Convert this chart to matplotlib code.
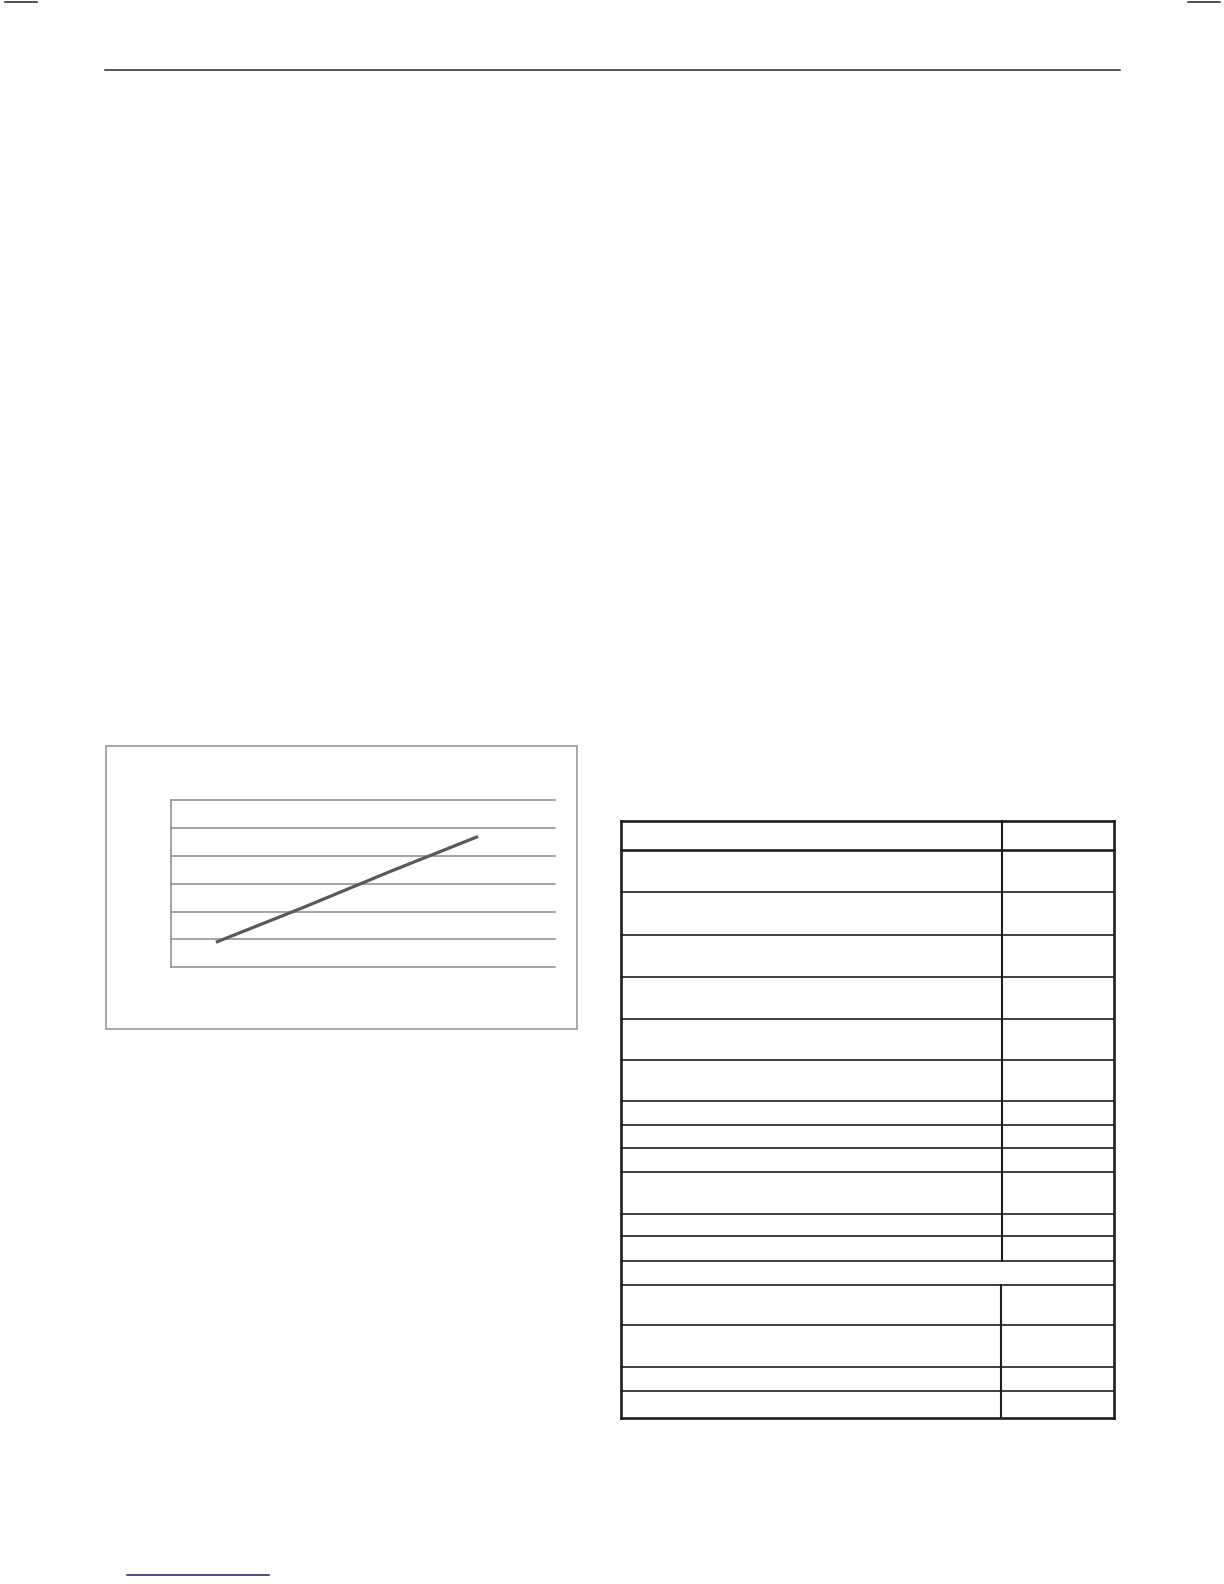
import numpy as np
import matplotlib
matplotlib.use("Agg")
import matplotlib.pyplot as plt
from matplotlib.patches import Rectangle

# chart data (no labels shown)
points = [1, 2, 3, 4]
values = [0.9, 2.15, 3.45, 4.7]
grid_levels = [0, 1, 2, 3, 4, 5, 6]

# table layout: horizontal rule positions (px from top) and merged rows
row_edges = [821, 850, 891.5, 934.5, 976.5, 1018.5, 1059.5, 1100.5, 1124.5,
             1147.5, 1171.5, 1213.5, 1236, 1261, 1285, 1324.5, 1367, 1390.5, 1418]
merged_rows = [13]  # row index spanning both columns

W, H = 1224, 1584
fig = plt.figure(figsize=(W / 100, H / 100), dpi=100)
fig.patch.set_facecolor("white")

# page overlay in pixel coords
page = fig.add_axes([0, 0, 1, 1])
page.set_xlim(0, W)
page.set_ylim(H, 0)
page.axis("off")

# crop marks + header rule + footer link line
page.plot([5, 37], [2, 2], color="#222222", lw=1.1)
page.plot([1188, 1220], [2, 2], color="#222222", lw=1.1)
page.plot([105, 1120], [70, 70], color="#2a2a2a", lw=1.1)
page.plot([127, 269], [1575, 1575], color="#1a1a80", lw=1.1)

# chart frame
page.add_patch(Rectangle((105.5, 745.5), 471.5, 283, fill=False,
                         edgecolor="#999999", lw=1.2))

# table
tl, tr, tdiv_top, tdiv_bot = 621, 1114, 1002, 1000.5
for i, y in enumerate(row_edges):
    lw = 1.9 if i in (0, 1, len(row_edges) - 1) else 1.2
    page.plot([tl, tr], [y, y], color="#1e1e1e", lw=lw, solid_capstyle="projecting")
page.plot([tl, tl], [row_edges[0], row_edges[-1]], color="#1e1e1e", lw=1.9)
page.plot([tr, tr], [row_edges[0], row_edges[-1]], color="#1e1e1e", lw=1.9)
for r in range(len(row_edges) - 1):
    if r in merged_rows:
        continue
    x = tdiv_top if r < merged_rows[0] else tdiv_bot
    page.plot([x, x], [row_edges[r], row_edges[r + 1]], color="#1e1e1e", lw=1.5)

# the line chart itself
x0, x1, y0, y1 = 170.5, 555, 800.3, 967.3
ax = fig.add_axes([x0 / W, 1 - y1 / H, (x1 - x0) / W, (y1 - y0) / H])
ax.set_facecolor("none")
ax.set_xlim(0.48, 4.88)
ax.set_ylim(0, 6)
for g in grid_levels:
    ax.axhline(g, color="#8c8c8c", lw=1.1, clip_on=False)
ax.plot(points, values, color="#595959", lw=2.3, solid_capstyle="butt")
for s in ["top", "right", "bottom"]:
    ax.spines[s].set_visible(False)
ax.spines["left"].set_color("#8c8c8c")
ax.spines["left"].set_linewidth(1.1)
ax.set_xticks([])
ax.set_yticks([])

fig.savefig("out.png", dpi=100, facecolor="white")
